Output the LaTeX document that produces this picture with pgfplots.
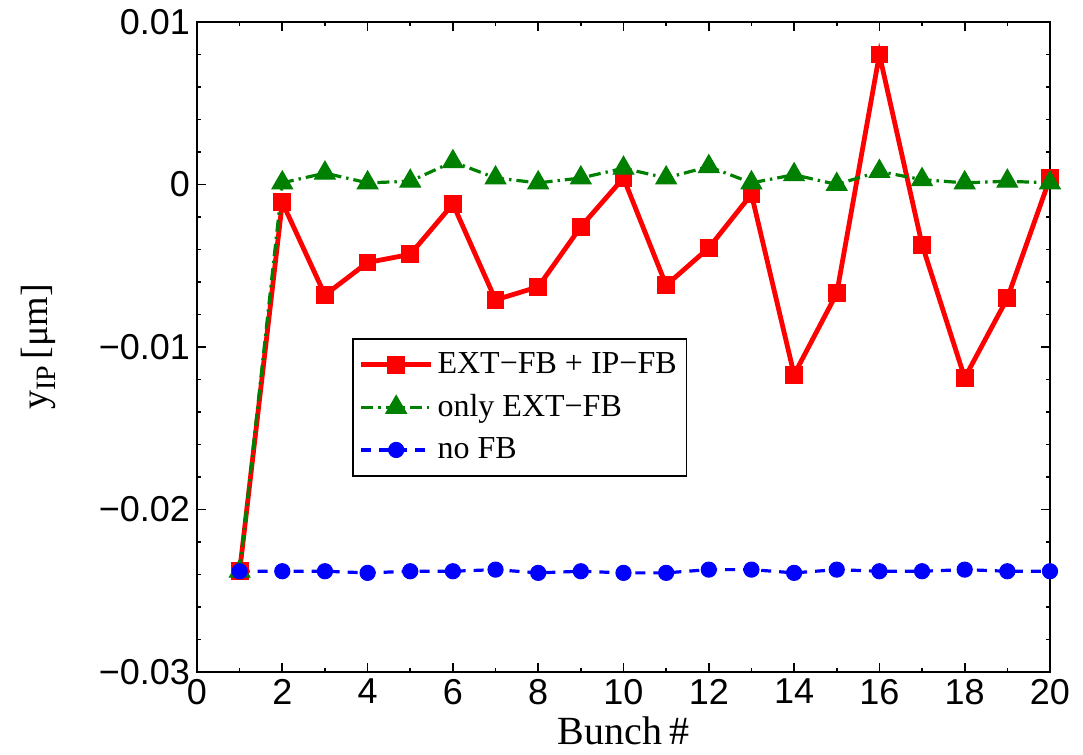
\documentclass[border=0pt]{standalone}
\usepackage{pgfplots}
\pgfplotsset{compat=1.18}
\usepackage{fontspec}
\setmainfont{Liberation Serif}
\newfontfamily\tickfont{Liberation Sans}
\definecolor{mred}{RGB}{255,0,0}
\definecolor{mgreen}{RGB}{0,128,0}
\definecolor{mblue}{RGB}{0,0,255}
\begin{document}
\begin{tikzpicture}
\useasboundingbox (0,0) rectangle (541.5pt,377.5pt);
\begin{axis}[
  at={(98.5pt,41.5pt)}, anchor=south west,
  scale only axis, width=426.5pt, height=325pt,
  xmin=0, xmax=20, ymin=-0.03, ymax=0.01,
  xtick={0,2,...,20},
  xticklabels={0,2,4,6,8,10,12,14,16,18,20},
  ytick={-0.03,-0.02,-0.01,0,0.01},
  yticklabels={−0.03,−0.02,−0.01,0,0.01},
  scaled y ticks=false,
  minor x tick num=1, minor y tick num=4,
  tick align=inside, tick pos=both,
  major tick length=4.5pt, minor tick length=2.2pt,
  every tick/.style={black, line width=0.8pt},
  axis line style={line width=1pt},
  ticklabel style={font=\tickfont\fontsize{18}{20}\selectfont},
  xlabel={Bunch\,\#},
  xlabel style={font=\fontsize{20}{22}\selectfont, at={(axis description cs:0.5,-0.111)}, anchor=base},
  ylabel={y\raisebox{-0.45ex}{\fontsize{14}{14}\selectfont IP}\,[μm]},
  ylabel style={font=\fontsize{19}{21}\selectfont, at={(axis description cs:-0.186,0.5)}, anchor=center, rotate=0},
  legend style={at={(axis description cs:0.1817,0.5138)}, anchor=north west,
    font=\fontsize{16}{19}\selectfont, draw=black, line width=0.8pt,
    row sep=5pt, inner xsep=3pt, inner ysep=5pt,
    nodes={inner sep=2pt}},
  legend cell align=left,
  legend image code/.code={\draw[mark repeat=2,mark phase=2] plot coordinates {(0pt,0pt) (17.5pt,0pt) (35pt,0pt)};},
]
\addplot[color=mred, line width=2.4pt, mark=square*, mark size=4.2pt, mark options={solid, line width=0.5pt}] coordinates {
(1,-0.0238) (2,-0.0011) (3,-0.0068) (4,-0.0048) (5,-0.0043) (6,-0.0012) (7,-0.0071) (8,-0.0063) (9,-0.0026) (10,0.0004)
(11,-0.0062) (12,-0.0039) (13,-0.0006) (14,-0.0117) (15,-0.0067) (16,0.0080) (17,-0.0037) (18,-0.0119) (19,-0.0070) (20,0.0004)};
\addlegendentry{EXT−FB + IP−FB}
\addplot[color=mgreen, line width=1.6pt, dash pattern=on 6pt off 2.5pt on 1.2pt off 2.5pt, mark=triangle*, mark size=6pt, mark options={solid, line width=0.5pt}] coordinates {
(1,-0.0238) (2,0.0001) (3,0.0007) (4,0.0001) (5,0.0002) (6,0.0014) (7,0.0004) (8,0.0001) (9,0.0004) (10,0.0010)
(11,0.0004) (12,0.0011) (13,0.0001) (14,0.0006) (15,0.0000) (16,0.0008) (17,0.0003) (18,0.0001) (19,0.0002) (20,0.0001)};
\addlegendentry{only EXT−FB}
\addplot[color=mblue, line width=1.6pt, dash pattern=on 5pt off 4pt, mark=*, mark size=3.8pt, mark options={solid, line width=0.5pt}] coordinates {
(1,-0.0238) (2,-0.0238) (3,-0.0238) (4,-0.0239) (5,-0.0238) (6,-0.0238) (7,-0.0237) (8,-0.0239) (9,-0.0238) (10,-0.0239)
(11,-0.0239) (12,-0.0237) (13,-0.0237) (14,-0.0239) (15,-0.0237) (16,-0.0238) (17,-0.0238) (18,-0.0237) (19,-0.0238) (20,-0.0238)};
\addlegendentry{no FB}
\end{axis}
\end{tikzpicture}
\end{document}
